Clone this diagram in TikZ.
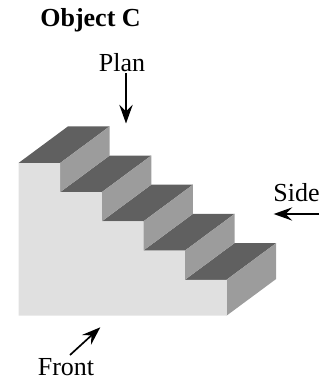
\documentclass[tikz,border=0pt]{standalone}
\usepackage{fontspec}
\setmainfont{Liberation Serif}
\usetikzlibrary{arrows.meta}
\definecolor{frontgray}{RGB}{224,224,224}
\definecolor{risergray}{RGB}{156,156,156}
\definecolor{treadgray}{RGB}{96,96,96}
\tikzset{
  viewlabel/.style={anchor=base,inner sep=0.75pt,font=\fontsize{19.5}{22}\selectfont},
  viewarrow/.style={line width=1.25pt,-{Stealth[length=14pt,width=10pt,inset=5pt]}},
  tread/.style={fill=treadgray},
  riser/.style={fill=risergray}
}
\begin{document}
\begin{tikzpicture}[x=0.75pt,y=0.75pt,yscale=-1,xscale=1]
\useasboundingbox (0,0) rectangle (326,381);

%Shape: Treads
\path [tread] (18.5,163) -- (60.1,163) -- (109.7,126.3) -- (68.1,126.3) -- cycle;
\path [tread] (60.1,192.2) -- (101.7,192.2) -- (151.3,155.5) -- (109.7,155.5) -- cycle;
\path [tread] (101.7,221.4) -- (143.3,221.4) -- (192.9,184.7) -- (151.3,184.7) -- cycle;
\path [tread] (143.3,250.6) -- (184.9,250.6) -- (234.5,213.9) -- (192.9,213.9) -- cycle;
\path [tread] (184.9,279.8) -- (226.5,279.8) -- (276.1,243.1) -- (234.5,243.1) -- cycle;

%Shape: Risers
\path [riser] (60.1,163) -- (109.7,126.3) -- (109.7,155.5) -- (60.1,192.2) -- cycle;
\path [riser] (101.7,192.2) -- (151.3,155.5) -- (151.3,184.7) -- (101.7,221.4) -- cycle;
\path [riser] (143.3,221.4) -- (192.9,184.7) -- (192.9,213.9) -- (143.3,250.6) -- cycle;
\path [riser] (184.9,250.6) -- (234.5,213.9) -- (234.5,243.1) -- (184.9,279.8) -- cycle;
\path [riser] (226.5,279.8) -- (276.1,243.1) -- (276.1,279) -- (226.5,315.7) -- cycle;

%Shape: Front face
\path [fill=frontgray] (18.5,163) -- (60.1,163) -- (60.1,192.2) -- (101.7,192.2) -- (101.7,221.4) -- (143.3,221.4) -- (143.3,250.6) -- (184.9,250.6) -- (184.9,279.8) -- (226.5,279.8) -- (226.5,315.7) -- (18.5,315.7) -- cycle;

% Text Node
\node (title) [viewlabel,font=\fontsize{19.5}{22}\selectfont\bfseries] at (90.5,27) {Object C};
% Text Node
\node (plan) [viewlabel] at (122,71.5) {Plan};
% Text Node
\node (side) [viewlabel] at (296.5,201) {Side};
% Text Node
\node (front) [viewlabel] at (66,375) {Front};

\coordinate (plantip) at (126,123.5);
\coordinate (sidefoot) at (319,214);
\coordinate (sidetip) at (273.7,214);
\coordinate (frontfoot) at (70,355);
\coordinate (fronttip) at (100.3,327.3);

%Straight Lines
\draw [viewarrow] (plan.south -| plantip) -- (plantip);
\draw [viewarrow] (sidefoot) -- (sidetip);
\draw [viewarrow] (frontfoot) -- (fronttip);

\end{tikzpicture}
\end{document}
